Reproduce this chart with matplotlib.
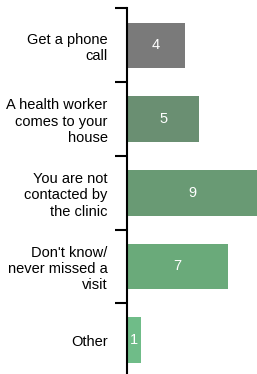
import matplotlib
matplotlib.use("Agg")
import matplotlib.pyplot as plt
from matplotlib.ticker import FixedLocator

plt.rcParams['font.family'] = ['Liberation Sans', 'DejaVu Sans']

categories = ["Get a phone\ncall",
              "A health worker\ncomes to your\nhouse",
              "You are not\ncontacted by\nthe clinic",
              "Don't know/\nnever missed a\nvisit",
              "Other"]
values = [4, 5, 9, 7, 1]
colors = ["#7a7a7a", "#6a8f72", "#699a74", "#6aaa7a", "#6fbc88"]

fig = plt.figure(figsize=(2.57, 3.74), dpi=100)
ax = fig.add_axes([127 / 257, -3 / 374, 1 - 127 / 257, 368.5 / 374])

pos = list(range(len(categories)))
bars = ax.barh(pos, values, height=0.62, color=colors)
for b, v in zip(bars, values):
    ax.text(b.get_width() / 2, b.get_y() + b.get_height() / 2, str(v),
            ha="center", va="center", color="white", fontsize=10.5)

ax.set_xlim(0, 9)
ax.set_ylim(len(categories) - 0.5, -0.5)
ax.set_xticks([])

# labels sit in the middle, ticks mark the boundaries between groups
ax.yaxis.set_major_locator(FixedLocator([p - 0.5 for p in pos]))
ax.yaxis.set_minor_locator(FixedLocator(pos))
ax.set_yticklabels([], minor=False)
ax.set_yticklabels(categories, minor=True, fontsize=10.5, linespacing=1.2)
ax.tick_params(axis="y", which="major", length=9, width=1.5, color="black")
ax.tick_params(axis="y", which="minor", length=0, pad=14)

for s in ["top", "right", "bottom"]:
    ax.spines[s].set_visible(False)
ax.spines["left"].set_linewidth(1.5)

fig.savefig("out.png", dpi=100)
